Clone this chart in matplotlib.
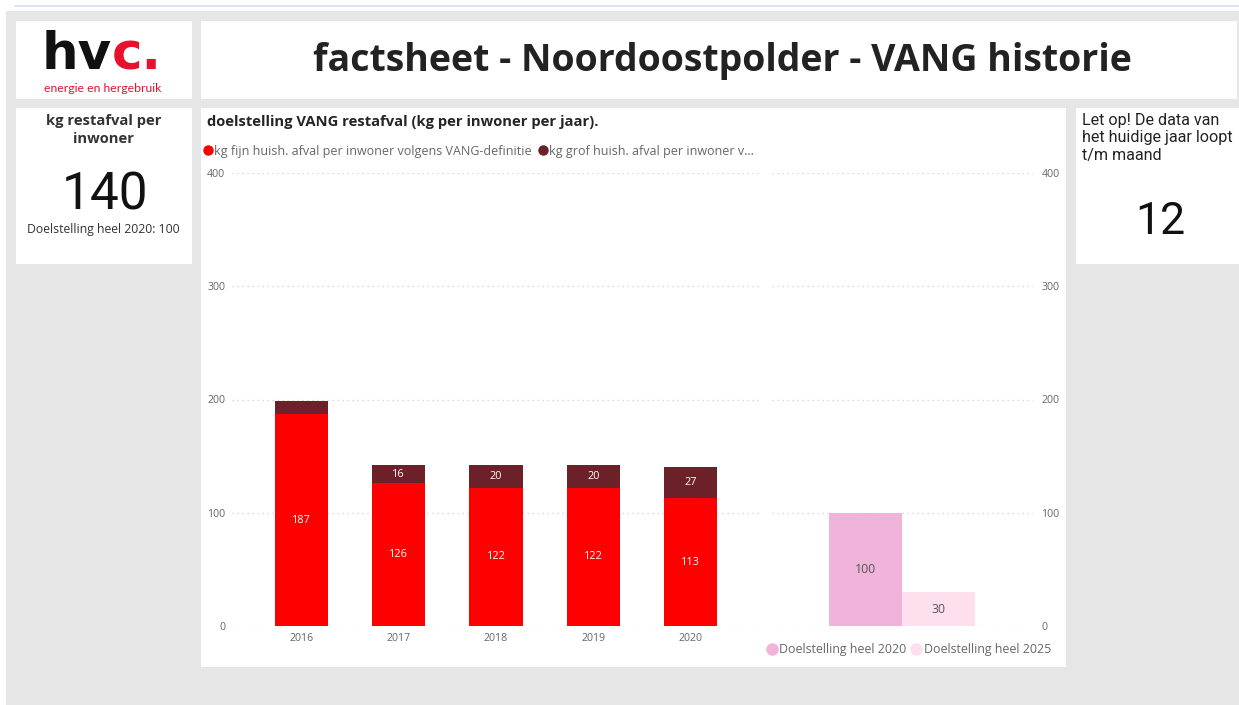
import matplotlib
matplotlib.use("Agg")
import matplotlib.pyplot as plt
from matplotlib.patches import Rectangle
from matplotlib.lines import Line2D

# ---------------- data ----------------
years = ["2016", "2017", "2018", "2019", "2020"]
fijn = [187, 126, 122, 122, 113]
grof = [12, 16, 20, 20, 27]
fijn_name = "kg fijn huish. afval per inwoner volgens VANG-definitie"
grof_name = "kg grof huish. afval per inwoner v..."
goal_names = ["Doelstelling heel 2020", "Doelstelling heel 2025"]
goal_values = [100, 30]
yticks = [0, 100, 200, 300, 400]
kpi_value = 140
kpi_goal = 100
maand = 12

# ---------------- style ----------------
W, H = 1239, 705
FONT = ["Open Sans", "DejaVu Sans"]
NUMFONT = ["Roboto", "DejaVu Sans"]
plt.rcParams["font.family"] = FONT
C_FIJN = "#FF0000"
C_GROF = "#6B2127"
C_G20 = "#F0B3DA"
C_G25 = "#FDDFEE"
BG = "#E6E6E6"

fig = plt.figure(figsize=(W / 100, H / 100), dpi=100)
fig.patch.set_facecolor("white")

# full-figure pixel axes for background
bg = fig.add_axes([0, 0, 1, 1])
bg.set_xlim(0, W)
bg.set_ylim(H, 0)
bg.axis("off")


def rect(x0, y0, x1, y1, color):
    bg.add_patch(Rectangle((x0, y0), x1 - x0, y1 - y0, facecolor=color,
                           edgecolor="none", zorder=0))


rect(6, 11, W, H, BG)
bg.plot([15, W], [6, 6], color="#D3DFF7", lw=1.2, zorder=1)
rect(16, 21, 192, 99, "white")       # logo
rect(201, 21, 1237, 99, "white")     # title
rect(16, 108, 192, 264, "white")     # kpi
rect(201, 108, 1066, 667, "white")   # chart
rect(1076, 108, W, 264, "white")     # note card

# logo
LOGOF = ["DejaVu Sans"]
t1 = bg.text(42, 69, "hv", fontsize=37, fontweight="bold", color="#111111",
             family=LOGOF, va="baseline", ha="left")
bg.annotate("c.", xy=(1, 0), xycoords=t1, va="bottom", ha="left",
            fontsize=37, fontweight="bold", color="#E8112D",
            family=LOGOF, annotation_clip=False)
bg.text(103, 89, "energie en hergebruik", fontsize=8.8, color="#E8112D",
        ha="center", va="center", family=["Lato", "DejaVu Sans"])

# title
bg.text(722, 61, "factsheet - Noordoostpolder - VANG historie", fontsize=27,
        fontweight="bold", color="#222222", ha="center", va="center")

# KPI card
bg.text(104, 130, "kg restafval per\ninwoner", fontsize=10.6, fontweight="bold",
        color="#333333", ha="center", va="center", linespacing=1.35)
bg.text(105, 196, f"{kpi_value}", fontsize=37, color="#111111",
        ha="center", va="center", family=NUMFONT)
bg.text(103, 230, f"Doelstelling heel 2020: {kpi_goal}", fontsize=8.8,
        color="#333333", ha="center", va="center")

# note card
bg.text(1082, 113, "Let op! De data van\nhet huidige jaar loopt\nt/m maand",
        fontsize=11.6, color="#222222", ha="left", va="top", family=NUMFONT,
        linespacing=1.2)
bg.text(1160, 222, f"{maand}", fontsize=32, color="#111111", ha="center",
        va="center", family=NUMFONT)

# chart title
bg.text(207, 122, "doelstelling VANG restafval (kg per inwoner per jaar).",
        fontsize=10.6, fontweight="bold", color="#252525", ha="left",
        va="center")


def fax(x0, y0, x1, y1):
    return fig.add_axes([x0 / W, 1 - y1 / H, (x1 - x0) / W, (y1 - y0) / H])


# ---------------- left chart ----------------
ax = fax(232, 173, 762, 626)
xs = list(range(len(years)))
ax.bar(xs, fijn, width=0.545, color=C_FIJN, zorder=2)
ax.bar(xs, grof, bottom=fijn, width=0.545, color=C_GROF, zorder=2)
for i in xs:
    ax.text(i, fijn[i] / 2, f"{fijn[i]}", color="white", fontsize=7.8,
            ha="center", va="center", zorder=3)
    if grof[i] >= 15:
        ax.text(i, fijn[i] + grof[i] / 2, f"{grof[i]}", color="white",
                fontsize=7.8, ha="center", va="center", zorder=3)
ax.set_xlim(-0.71, 4.73)
ax.set_ylim(0, 400)
ax.set_xticks(xs)
ax.set_xticklabels(years)
ax.set_yticks(yticks)
ax.grid(axis="y", color="#CFCFCF", linestyle=(0, (1, 3)), lw=0.9, zorder=0)
ax.tick_params(length=0, labelsize=7.6, labelcolor="#666666")
ax.tick_params(axis="y", pad=5)
ax.tick_params(axis="x", pad=5)
for s in ax.spines.values():
    s.set_visible(False)
ax.set_facecolor("none")

handles = [Line2D([], [], marker="o", ls="none", color=C_FIJN, markersize=6.5),
           Line2D([], [], marker="o", ls="none", color=C_GROF, markersize=6.5)]
fig.legend(handles, [fijn_name, grof_name], loc="center left",
           bbox_to_anchor=(205 / W, 1 - 151 / H), ncol=2, frameon=False,
           handlelength=0.5, handletextpad=0.25, columnspacing=0.6,
           borderaxespad=0, borderpad=0, fontsize=9, labelcolor="#666666")

# ---------------- right chart ----------------
ax2 = fax(772, 173, 1033, 626)
gx = [-0.2, 0.2]
cols = [C_G20, C_G25]
ax2.bar(gx, goal_values, width=0.4, color=cols, zorder=2)
for x, v in zip(gx, goal_values):
    ax2.text(x, v / 2, f"{v}", color="#555555", fontsize=8.8, ha="center",
             va="center", zorder=3)
ax2.set_xlim(-0.71, 0.72)
ax2.set_ylim(0, 400)
ax2.set_xticks([])
ax2.set_yticks(yticks)
ax2.yaxis.tick_right()
ax2.grid(axis="y", color="#CFCFCF", linestyle=(0, (1, 3)), lw=0.9, zorder=0)
ax2.tick_params(length=0, labelsize=7.6, labelcolor="#666666", pad=6)
for s in ax2.spines.values():
    s.set_visible(False)
ax2.set_facecolor("none")

handles2 = [Line2D([], [], marker="o", ls="none", color=c, markersize=8)
            for c in cols]
fig.legend(handles2, goal_names, loc="center left",
           bbox_to_anchor=(768 / W, 1 - 650 / H), ncol=2, frameon=False,
           handlelength=0.6, handletextpad=0.3, columnspacing=0.5,
           borderaxespad=0, borderpad=0, fontsize=8.9, labelcolor="#666666")

fig.savefig("out.png", dpi=100, facecolor=fig.get_facecolor())
